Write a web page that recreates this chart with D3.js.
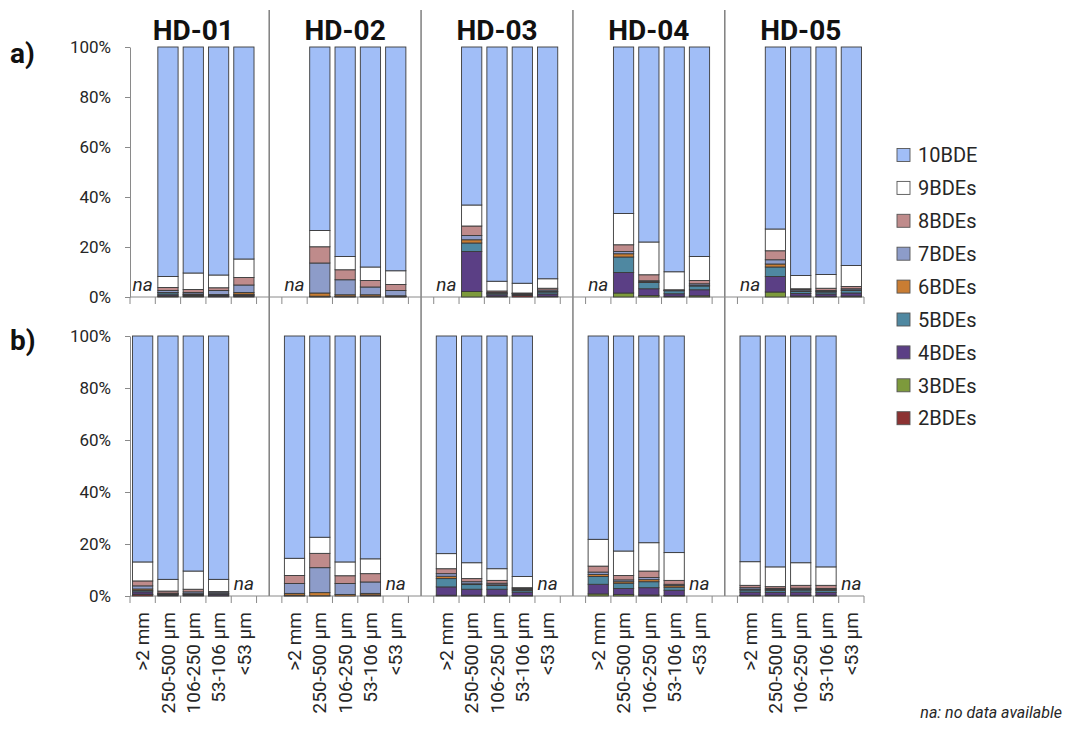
<!DOCTYPE html>
<html>
<head>
<meta charset="utf-8">
<script src="https://cdn.jsdelivr.net/npm/d3@7"></script>
<style>
  body { margin: 0; background: #fff; }
  svg { display: block; font-family: Roboto, "Open Sans", "DejaVu Sans", sans-serif; }
</style>
</head>
<body>
<svg id="chart" width="1068" height="746"></svg>
<script>
// Sites and particle-size fractions
const groups = ["HD-01", "HD-02", "HD-03", "HD-04", "HD-05"];
const sizes = [">2 mm", "250-500 µm", "106-250 µm", "53-106 µm", "<53 µm"];
// Homologue groups, bottom of the stack first
const series = ["2BDEs", "3BDEs", "4BDEs", "5BDEs", "6BDEs", "7BDEs", "8BDEs", "9BDEs", "10BDE"];
const colors = ["#8c3232", "#7d9a3c", "#5b3f85", "#4f88a1", "#c97d33", "#8d9cc9", "#bf8b8b", "#ffffff", "#a1bef7"];
const yTicks = [0, 0.2, 0.4, 0.6, 0.8, 1];

// Panel a) percentages, site by site, fractions in the order of `sizes` (null = no data)
const a2  = [null,0.3,0.3,0.2,0.4, null,0.1,0.1,0.1,0.1, null,0,0.2,0.6,0.2, null,0,0,0,0, null,0,0.3,0.2,0.3];
const a3  = [null,0.1,0.1,0.1,0.1, null,0,0,0,0, null,2.2,0.1,0,0.1, null,1.6,0.6,0.3,0.5, null,2.0,0.1,0.1,0.1];
const a4  = [null,0.5,0.4,0.3,0.4, null,0.1,0.1,0.1,0.1, null,16.0,0.6,0.4,0.9, null,8.2,2.7,1.0,2.4, null,6.2,1.0,0.9,1.2];
const a5  = [null,0.8,0.3,0.3,0.2, null,0.1,0.1,0.1,0.1, null,3.4,0.5,0.3,0.8, null,6.2,2.5,1.2,1.5, null,3.8,0.8,0.8,1.0];
const a6  = [null,0.1,0.1,0.1,0.7, null,1.3,0.6,0.6,0.2, null,1.3,0.1,0.1,0.2, null,1.3,0.3,0.1,0.3, null,1.2,0.2,0.2,0.2];
const a7  = [null,0.8,0.6,1.6,3.0, null,12.0,6.0,3.1,2.1, null,1.7,0.3,0.1,0.6, null,0.9,0.4,0.1,0.6, null,1.7,0.5,0.4,0.5];
const a8  = [null,1.2,1.2,1.1,3.0, null,6.5,4.0,2.6,2.4, null,3.8,0.6,0.1,0.7, null,2.7,2.4,0.2,1.3, null,3.6,0.4,0.9,0.9];
const a9  = [null,4.4,6.6,5.1,7.4, null,6.5,5.3,5.4,5.5, null,8.4,3.9,3.9,3.8, null,12.5,13.1,7.2,9.6, null,8.7,5.3,5.5,8.4];
const a10 = [null,91.8,90.4,91.2,84.8, null,73.4,83.8,88.0,89.5, null,63.2,93.7,94.5,92.7, null,66.6,78.0,89.9,83.8, null,72.8,91.4,91.0,87.4];

// Panel b) percentages
const b2  = [0.6,0.3,0.2,0.1,null, 0.1,0.1,0,0.4,null, 0,0.1,0.1,0.1,null, 0,0,0,0.1,null, 0.2,0.2,0.2,0.2,null];
const b3  = [0.1,0,0,0,null, 0,0,0,0,null, 0.3,0.2,0.2,0.1,null, 0.8,0.6,0.4,0.1,null, 0.1,0.1,0.1,0.1,null];
const b4  = [0.9,0.3,0.3,0.6,null, 0.1,0,0,0,null, 3.2,2.3,2.3,1.3,null, 3.7,2.3,2.8,2.0,null, 1.2,1.1,1.2,1.1,null];
const b5  = [0.5,0.2,0.3,0.1,null, 0.1,0,0,0,null, 3.2,1.8,1.5,0.6,null, 3.0,2.0,2.3,1.2,null, 0.8,0.8,0.8,0.8,null];
const b6  = [0.6,0.1,0.1,0.1,null, 0.7,1.2,0.6,0.6,null, 0.9,0.3,0.2,0.4,null, 0.8,0.6,0.8,0.6,null, 0.3,0.3,0.3,0.3,null];
const b7  = [1.2,0.2,0.7,0.6,null, 3.8,9.6,4.2,4.4,null, 1.0,0.8,0.6,0.4,null, 0.9,0.7,0.8,0.5,null, 0.6,0.4,0.4,0.4,null];
const b8  = [1.9,0.8,1.0,0.2,null, 3.1,5.5,3.0,3.2,null, 1.9,1.2,1.1,0.3,null, 2.3,1.7,2.5,1.5,null, 0.9,0.7,1.1,1.2,null];
const b9  = [7.3,4.5,7.0,4.7,null, 6.6,6.2,5.3,5.7,null, 5.8,6.1,4.5,4.3,null, 10.3,9.4,10.9,10.7,null, 9.1,7.6,8.7,7.1,null];
const b10 = [86.9,93.6,90.4,93.6,null, 85.5,77.4,86.9,85.7,null, 83.7,87.2,89.5,92.5,null, 78.2,82.7,79.5,83.3,null, 86.8,88.8,87.2,88.8,null];

const panels = [
  { label: "a)", labelY: 63, top: 47, base: 297, cols: [a2, a3, a4, a5, a6, a7, a8, a9, a10] },
  { label: "b)", labelY: 350, top: 336, base: 596, cols: [b2, b3, b4, b5, b6, b7, b8, b9, b10] }
];

const svg = d3.select("#chart");
const textColor = "#262626";
const axisColor = "#8a8a8a";

// Category slots: five fractions per site plus an empty slot between sites
const slots = [];
groups.forEach((g, gi) => {
  sizes.forEach(s => slots.push(g + "|" + s));
  if (gi < groups.length - 1) slots.push(g + "|gap");
});
const x = d3.scaleBand().domain(slots).range([130, 864]).paddingInner(0.2).paddingOuter(0.1);
const halfGap = x.step() * x.paddingInner() / 2;

// Vertical separators between sites
groups.slice(0, -1).forEach(g => {
  const cx = x(g + "|gap") + x.bandwidth() / 2;
  svg.append("line")
    .attr("x1", cx).attr("x2", cx).attr("y1", 10).attr("y2", 596)
    .attr("stroke", "#7f7f7f").attr("stroke-width", 1.5);
});

// Site titles
groups.forEach(g => {
  const x0 = x(g + "|" + sizes[0]);
  const x1 = x(g + "|" + sizes[sizes.length - 1]) + x.bandwidth();
  svg.append("text")
    .attr("x", (x0 + x1) / 2).attr("y", 40)
    .attr("text-anchor", "middle")
    .attr("font-size", 28).attr("font-weight", 700)
    .attr("fill", "#111")
    .text(g);
});

panels.forEach(p => {
  const y = d3.scaleLinear().domain([0, 1]).range([p.base, p.top]);

  // Rows of the stack; fractions without data get an "na" note
  const rows = [];
  const missing = [];
  groups.forEach((g, gi) => sizes.forEach((s, si) => {
    const i = gi * sizes.length + si;
    const key = g + "|" + s;
    if (p.cols[8][i] === null) { missing.push(key); return; }
    const row = { key };
    series.forEach((name, k) => { row[name] = p.cols[k][i]; });
    rows.push(row);
  }));

  const stacked = d3.stack().keys(series).offset(d3.stackOffsetExpand)(rows);

  // Y axis
  const yAxis = d3.axisLeft(y).tickValues(yTicks).tickFormat(d3.format(".0%"))
    .tickSizeInner(5).tickSizeOuter(0).tickPadding(14);
  const ga = svg.append("g").attr("transform", "translate(130,0)").call(yAxis);
  ga.select(".domain").attr("stroke", axisColor);
  ga.selectAll(".tick line").attr("stroke", axisColor);
  ga.selectAll(".tick text").attr("font-size", 17).attr("fill", textColor)
    .attr("font-family", "Roboto, sans-serif");

  // X axis line and tick marks between categories
  const gx = svg.append("g");
  gx.append("line").attr("x1", 130).attr("x2", 864).attr("y1", p.base).attr("y2", p.base)
    .attr("stroke", axisColor);
  const bounds = slots.map(k => x(k) - halfGap).concat([x(slots[slots.length - 1]) + x.bandwidth() + halfGap]);
  gx.selectAll("line.tk").data(bounds).join("line").attr("class", "tk")
    .attr("x1", d => d).attr("x2", d => d)
    .attr("y1", p.base).attr("y2", p.base + 7)
    .attr("stroke", axisColor);

  // Stacked bars
  const gb = svg.append("g");
  stacked.forEach((layer, k) => {
    gb.selectAll(null)
      .data(layer.filter(d => d.data[series[k]] > 0))
      .join("rect")
      .attr("x", d => x(d.data.key))
      .attr("width", x.bandwidth())
      .attr("y", d => y(d[1]))
      .attr("height", d => y(d[0]) - y(d[1]))
      .attr("fill", colors[k])
      .attr("stroke", "#3a3a3a")
      .attr("stroke-width", 0.9);
  });

  // "na" notes
  svg.selectAll(null).data(missing).join("text")
    .attr("x", d => x(d) + x.bandwidth() / 2)
    .attr("y", p.base - 6)
    .attr("text-anchor", "middle")
    .attr("font-size", 19).attr("font-style", "italic")
    .attr("fill", textColor)
    .text("na");

  // Panel letter
  svg.append("text")
    .attr("x", 10).attr("y", p.labelY)
    .attr("font-size", 28).attr("font-weight", 700)
    .attr("fill", "#111")
    .text(p.label);
});

// Category labels under the lower panel
groups.forEach(g => sizes.forEach(s => {
  const cx = x(g + "|" + s) + x.bandwidth() / 2;
  svg.append("text")
    .attr("transform", `translate(${cx},612) rotate(-90)`)
    .attr("dy", "0.35em")
    .attr("text-anchor", "end")
    .attr("font-size", 19)
    .attr("fill", textColor)
    .text(s);
}));

// Legend, top entry first
const legend = svg.append("g").attr("transform", "translate(897,0)");
series.slice().reverse().forEach((name, i) => {
  const k = series.length - 1 - i;
  const cy = 155 + i * 32.9;
  legend.append("rect")
    .attr("x", 0).attr("y", cy - 6.5).attr("width", 13).attr("height", 13)
    .attr("fill", colors[k]).attr("stroke", "#555").attr("stroke-width", 0.9);
  legend.append("text")
    .attr("x", 21).attr("y", cy).attr("dy", "0.36em")
    .attr("font-size", 20).attr("fill", textColor)
    .text(name);
});

// Footnote
svg.append("text")
  .attr("x", 1062).attr("y", 718)
  .attr("text-anchor", "end")
  .attr("font-size", 16).attr("font-style", "italic")
  .attr("fill", textColor)
  .text("na: no data available");
</script>
</body>
</html>
